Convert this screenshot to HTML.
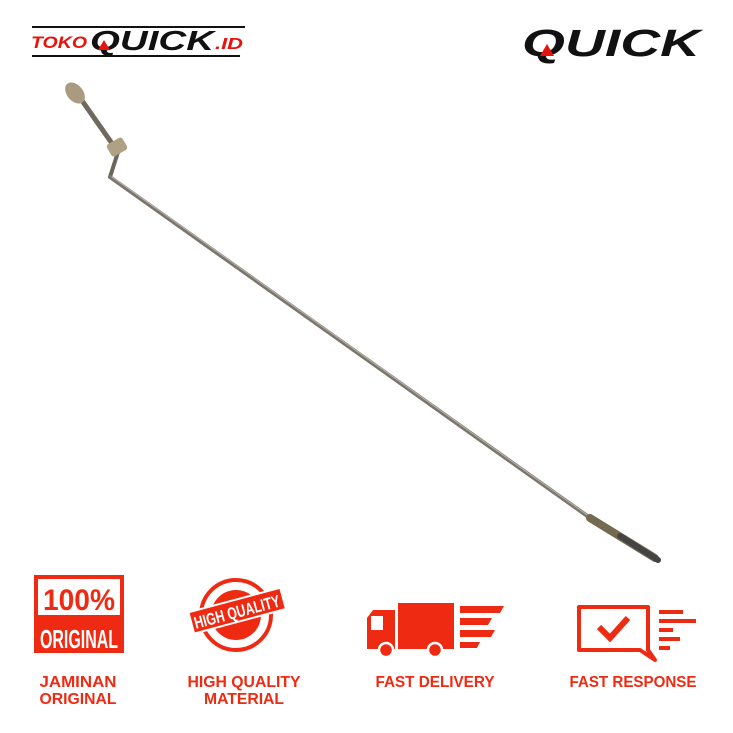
<!DOCTYPE html>
<html><head><style>
body{margin:0;background:#fff;}
svg{display:block}
text{font-family:"Liberation Sans",sans-serif;}
</style></head><body>
<svg width="733" height="733" viewBox="0 0 733 733" xmlns="http://www.w3.org/2000/svg">
<rect width="733" height="733" fill="#fff"/>
<!-- top-left logo -->
<line x1="32" y1="27" x2="245" y2="27" stroke="#111" stroke-width="2"/>
<line x1="32" y1="56" x2="240" y2="56" stroke="#111" stroke-width="2"/>
<text x="31" y="48" font-size="17" font-weight="bold" font-style="italic" fill="#e8120c" textLength="56" lengthAdjust="spacingAndGlyphs">TOKO</text>
<text x="90" y="50" font-size="28" font-weight="900" font-style="italic" fill="#111" textLength="124" lengthAdjust="spacingAndGlyphs">QUICK</text>
<polygon points="98,50 104,40 110,50" fill="#e8120c"/>
<text x="215" y="49" font-size="16" font-weight="bold" font-style="italic" fill="#e8120c" textLength="28" lengthAdjust="spacingAndGlyphs">.ID</text>
<!-- top-right logo -->
<text x="522" y="56" font-size="38" font-weight="900" font-style="italic" fill="#111" textLength="178" lengthAdjust="spacingAndGlyphs">QUICK</text>
<polygon points="540,56 547,44 554,56" fill="#e8120c"/>
<!-- rod -->
<g stroke-linecap="round" fill="none">
<path d="M76,92 L118,152" stroke="#6f6a5e" stroke-width="5"/>
<path d="M118,152 L110,177" stroke="#6a665a" stroke-width="4"/>
<path d="M110,177 L600,525" stroke="#7a766c" stroke-width="4"/>
<path d="M112,177 L600,524" stroke="#b8b4aa" stroke-width="1"/>
<path d="M590,518 L655,558" stroke="#746a50" stroke-width="8"/>
<path d="M620,536 L658,560" stroke="#444" stroke-width="6"/>
</g>
<ellipse cx="75" cy="93" rx="8" ry="12" transform="rotate(-40 75 93)" fill="#a99a80"/>
<rect x="108" y="140" width="18" height="14" rx="3" transform="rotate(-30 117 147)" fill="#b0a185"/>
<!-- badge 1 -->
<rect x="34" y="575" width="90" height="78" fill="#ef2a12"/>
<rect x="38" y="579" width="82" height="36" fill="#fff"/>
<text x="79" y="610" font-size="30" font-weight="bold" fill="#ef2a12" text-anchor="middle" textLength="72" lengthAdjust="spacingAndGlyphs">100%</text>
<text x="79" y="648" font-size="26" font-weight="bold" fill="#fff" text-anchor="middle" textLength="78" lengthAdjust="spacingAndGlyphs">ORIGINAL</text>
<text x="78" y="687" font-size="16" font-weight="bold" fill="#ef2a12" text-anchor="middle" textLength="77" lengthAdjust="spacingAndGlyphs">JAMINAN</text>
<text x="78" y="704" font-size="16" font-weight="bold" fill="#ef2a12" text-anchor="middle" textLength="77" lengthAdjust="spacingAndGlyphs">ORIGINAL</text>
<!-- badge 2 -->
<circle cx="236" cy="615" r="35" fill="#fff" stroke="#ef2a12" stroke-width="4"/>
<circle cx="236" cy="615" r="25" fill="#ef2a12"/>
<g transform="rotate(-15 236 612)">
<rect x="190" y="600" width="95" height="22" fill="#ef2a12" stroke="#fff" stroke-width="2"/>
<text x="237" y="618" font-size="17" font-weight="bold" fill="#fff" text-anchor="middle" textLength="88" lengthAdjust="spacingAndGlyphs">HIGH QUALITY</text>
</g>
<text x="244" y="687" font-size="16" font-weight="bold" fill="#ef2a12" text-anchor="middle" textLength="113" lengthAdjust="spacingAndGlyphs">HIGH QUALITY</text>
<text x="244" y="704" font-size="16" font-weight="bold" fill="#ef2a12" text-anchor="middle" textLength="80" lengthAdjust="spacingAndGlyphs">MATERIAL</text>
<!-- truck -->
<rect x="398" y="603" width="56" height="46" fill="#ef2a12"/>
<path d="M367,649 L367,618 L373,610 L395,610 L395,649 Z" fill="#ef2a12"/>
<rect x="371" y="616" width="12" height="14" fill="#fff"/>
<circle cx="386" cy="650" r="7" fill="#ef2a12" stroke="#fff" stroke-width="2.5"/>
<circle cx="435" cy="650" r="7" fill="#ef2a12" stroke="#fff" stroke-width="2.5"/>
<polygon points="460,606 504,606 500,613 460,613" fill="#ef2a12"/>
<polygon points="460,618 492,618 488,625 460,625" fill="#ef2a12"/>
<polygon points="460,630 495,630 491,637 460,637" fill="#ef2a12"/>
<polygon points="460,642 480,642 477,648 460,648" fill="#ef2a12"/>
<text x="435" y="687" font-size="16" font-weight="bold" fill="#ef2a12" text-anchor="middle" textLength="119" lengthAdjust="spacingAndGlyphs">FAST DELIVERY</text>
<!-- response -->
<path d="M579,607 L648,607 L648,650 L655,660 L640,650 L579,650 Z" fill="none" stroke="#ef2a12" stroke-width="4" stroke-linejoin="round"/>
<path d="M599,627 L610,638 L628,618" fill="none" stroke="#ef2a12" stroke-width="6"/>
<rect x="659" y="610" width="24" height="4" fill="#ef2a12"/>
<rect x="659" y="619" width="37" height="4" fill="#ef2a12"/>
<rect x="659" y="628" width="14" height="4" fill="#ef2a12"/>
<rect x="659" y="637" width="21" height="4" fill="#ef2a12"/>
<rect x="659" y="646" width="11" height="4" fill="#ef2a12"/>
<text x="633" y="687" font-size="16" font-weight="bold" fill="#ef2a12" text-anchor="middle" textLength="127" lengthAdjust="spacingAndGlyphs">FAST RESPONSE</text>
</svg>
</body></html>
